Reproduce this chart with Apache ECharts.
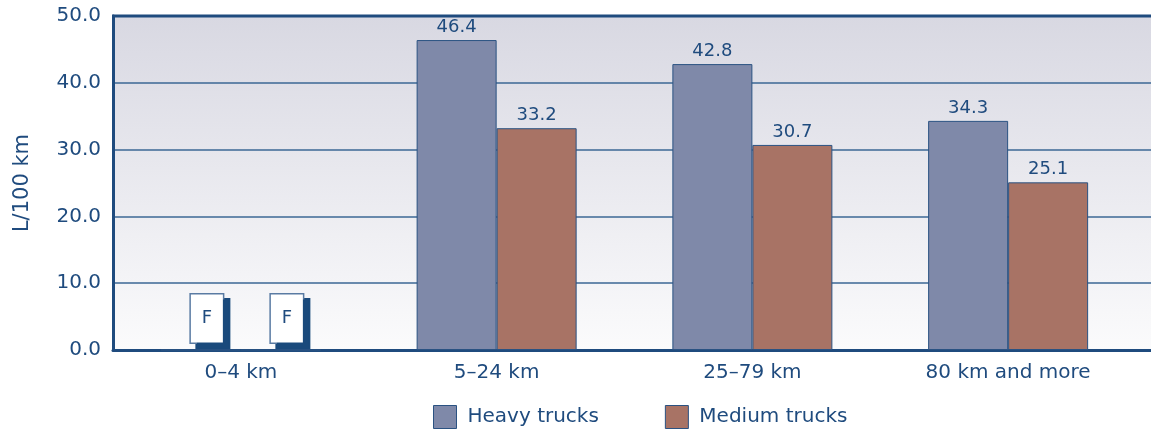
<!DOCTYPE html>
<html>
<head>
<meta charset="utf-8">
<script src="https://cdn.jsdelivr.net/npm/echarts@6/dist/echarts.min.js"></script>
<style>
  html, body { margin: 0; padding: 0; background: #ffffff; }
  #chart { width: 1151px; height: 431px; }
</style>
</head>
<body>
<div id="chart"></div>
<script>
// Fuel consumption by trip distance
const categories = ['0–4 km', '5–24 km', '25–79 km', '80 km and more'];
const heavyTrucks = [null, 46.4, 42.8, 34.3];   // null: estimate suppressed (F)
const mediumTrucks = [null, 33.2, 30.7, 25.1];
const yTicks = [0, 10, 20, 30, 40, 50];

const NAVY = '#1f4b7e';
const FONT = '"DejaVu Sans", "Noto Sans", sans-serif';

// A suppressed value is shown as an "F" flag sitting on the axis
function toItems(values) {
  return values.map(v => v === null ? {
    value: 0,
    label: {
      show: true,
      formatter: 'F',
      position: 'top',
      distance: 7,
      offset: [6, 0],
      color: NAVY,
      fontSize: 18,
      fontFamily: FONT,
      backgroundColor: '#ffffff',
      borderColor: '#5a7ba3',
      borderWidth: 1.5,
      width: 32,
      height: 48,
      lineHeight: 48,
      shadowColor: '#1a4a7c',
      shadowOffsetX: 6,
      shadowOffsetY: 5,
      shadowBlur: 0
    }
  } : v);
}

const chart = echarts.init(document.getElementById('chart'), null, { renderer: 'canvas' });

const barLabel = {
  show: true,
  position: 'top',
  distance: 4,
  color: NAVY,
  fontSize: 18,
  fontFamily: FONT
};

chart.setOption({
  animation: false,
  textStyle: { fontFamily: FONT },
  graphic: [
    {
      type: 'rect', z: -10, silent: true,
      shape: { x: 113, y: 16, width: 1038, height: 334 },
      style: {
        fill: new echarts.graphic.LinearGradient(0, 0, 0, 1, [
          { offset: 0, color: '#d8d8e2' },
          { offset: 1, color: '#fbfbfc' }
        ])
      }
    },
    {
      type: 'line', z: 10, silent: true,
      shape: { x1: 112, y1: 16, x2: 1151, y2: 16 },
      style: { stroke: NAVY, lineWidth: 3 }
    }
  ],
  // grid 0: frame, value scale and gridlines across the full width
  // grid 1: category slots for the bars
  grid: [
    { left: 113, right: 0, top: 16, bottom: 81 },
    { left: 113, right: 15, top: 16, bottom: 81 }
  ],
  legend: {
    top: 400,
    left: 428,
    icon: 'rect',
    itemWidth: 23,
    itemHeight: 23,
    itemGap: 66,
    itemStyle: { borderColor: '#2a5282', borderWidth: 1 },
    textStyle: { color: NAVY, fontSize: 20, fontFamily: FONT, padding: [0, 0, 0, 6] },
    data: ['Heavy trucks', 'Medium trucks']
  },
  xAxis: [
    {
      gridIndex: 0,
      type: 'value',
      min: 0, max: 1,
      axisLine: { show: true, onZero: false, lineStyle: { color: NAVY, width: 3 } },
      axisTick: { show: false },
      axisLabel: { show: false },
      splitLine: { show: false }
    },
    {
      gridIndex: 1,
      type: 'category',
      data: categories,
      axisLine: { show: false },
      axisTick: { show: false },
      axisLabel: { color: NAVY, fontSize: 20, fontFamily: FONT, margin: 13 }
    }
  ],
  yAxis: [
    {
      gridIndex: 0,
      type: 'value',
      min: 0, max: 50, interval: 10,
      name: 'L/100 km',
      nameLocation: 'middle',
      nameGap: 80,
      nameRotate: 90,
      nameTextStyle: { color: NAVY, fontSize: 21, fontFamily: FONT },
      axisLine: { show: true, lineStyle: { color: NAVY, width: 3 } },
      axisTick: { show: false },
      axisLabel: {
        color: NAVY, fontSize: 20, fontFamily: FONT, margin: 12,
        formatter: v => yTicks.includes(v) ? v.toFixed(1) : ''
      },
      splitLine: { show: true, lineStyle: { color: '#3b6794', width: 1.5 } }
    },
    {
      gridIndex: 1,
      type: 'value',
      min: 0, max: 50, interval: 10,
      axisLine: { show: false },
      axisTick: { show: false },
      axisLabel: { show: false },
      splitLine: { show: false }
    }
  ],
  series: [
    {
      name: 'Heavy trucks',
      type: 'bar',
      xAxisIndex: 1,
      yAxisIndex: 1,
      data: toItems(heavyTrucks),
      barWidth: 80,
      barGap: '0%',
      itemStyle: { color: '#7f89a9', borderColor: '#2a5282', borderWidth: 1 },
      label: barLabel
    },
    {
      name: 'Medium trucks',
      type: 'bar',
      xAxisIndex: 1,
      yAxisIndex: 1,
      data: toItems(mediumTrucks),
      barWidth: 80,
      barGap: '0%',
      itemStyle: { color: '#a87365', borderColor: '#2a5282', borderWidth: 1 },
      label: barLabel
    }
  ]
});
</script>
</body>
</html>
